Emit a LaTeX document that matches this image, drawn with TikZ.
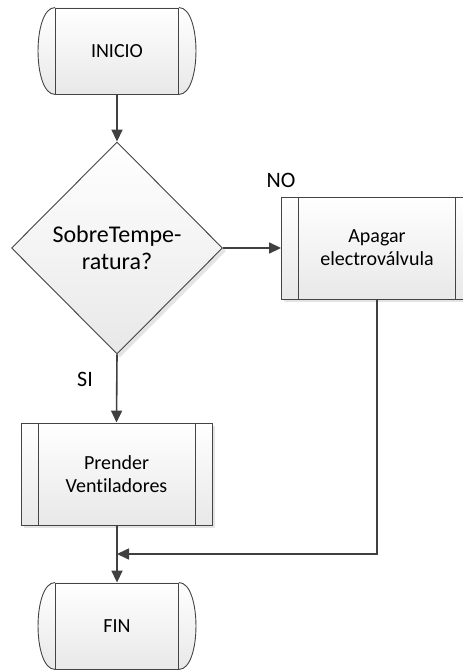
\documentclass[tikz,border=0pt]{standalone}
\usepackage{fontspec}
\setmainfont[Ligatures=NoCommon]{Carlito}
\usetikzlibrary{shapes.geometric,arrows.meta,backgrounds}

\definecolor{edge}{HTML}{444444}
\definecolor{wire}{HTML}{404040}
\definecolor{shadowgray}{HTML}{E4E4E4}

\tikzset{
  body/.style={draw=edge, line width=0.9pt, inner sep=0pt, align=center,
    font=\fontsize{20}{23}\selectfont},
  panel/.style={top color=white, bottom color=black!9},
  terminal/.style={body, rectangle, minimum width=123pt, minimum height=86pt},
  subproc/.style={body, panel, rectangle, minimum width=191pt, minimum height=102pt},
  decision/.style={body, panel, diamond, minimum width=211pt, minimum height=212pt,
    font=\fontsize{24}{27}\selectfont},
  flow/.style={draw=wire, line width=1.6pt, -{Triangle[length=12pt,width=11pt]}},
  tag/.style={font=\fontsize{22}{26}\selectfont},
  shade/.style={fill=shadowgray},
  rim/.style={draw=edge, line width=0.9pt},
}

\begin{document}
\begin{tikzpicture}[x=1pt,y=-1pt]
  \useasboundingbox (0,0) rectangle (463,670);

  % nodes
  \node[terminal] (inicio) at (117,51) {INICIO};
  \node[decision] (dec) at (117,248) {SobreTempe-\\ratura?};
  \node[subproc] (apagar) at (377,248) {Apagar\\electroválvula};
  \node[subproc] (prender) at (116.5,474) {Prender\\Ventiladores};
  \node[terminal] (fin) at (117,626) {FIN};

  % shadows and rounded-end fills
  \begin{scope}[on background layer]
    \foreach \t in {inicio,fin}{
      \path[shade,shift={(3,3)}] (\t.north west) .. controls +(-22.7,0) and +(-22.7,0) .. (\t.south west)
        -- (\t.south east) .. controls +(22.7,0) and +(22.7,0) .. (\t.north east) -- cycle;
      \path[panel] (\t.north west) .. controls +(-22.7,0) and +(-22.7,0) .. (\t.south west)
        -- (\t.south east) .. controls +(22.7,0) and +(22.7,0) .. (\t.north east) -- cycle;
    }
    \foreach \b in {apagar,prender}{
      \path[shade] ([shift={(3,3)}]\b.north west) rectangle ([shift={(3,3)}]\b.south east);
    }
    \path[shade] ([shift={(3,3)}]dec.north) -- ([shift={(3,3)}]dec.east)
      -- ([shift={(3,3)}]dec.south) -- ([shift={(3,3)}]dec.west) -- cycle;
  \end{scope}

  % rounded ends of the terminals
  \foreach \t in {inicio,fin}{
    \draw[rim] (\t.north west) .. controls +(-22.7,0) and +(-22.7,0) .. (\t.south west);
    \draw[rim] (\t.north east) .. controls +(22.7,0) and +(22.7,0) .. (\t.south east);
  }

  % inner bars of the sub-process boxes
  \foreach \b in {apagar,prender}{
    \draw[rim] ([xshift=17.5pt]\b.north west) -- ([xshift=17.5pt]\b.south west);
    \draw[rim] ([xshift=-17.5pt]\b.north east) -- ([xshift=-17.5pt]\b.south east);
  }

  % connectors
  \coordinate (join) at (117,554);
  \draw[flow] (inicio.south) -- (dec.north);
  \draw[flow] (dec.east) -- (apagar.west);
  \draw[flow] (dec.south) -- (prender.north);
  \draw[flow] (prender.south -| fin.north) -- (fin.north);
  \draw[flow] (apagar.south) |- (join);

  % branch labels
  \node[tag] (no) at (281,180) {NO};
  \node[tag] (si) at (85,379) {SI};
\end{tikzpicture}
\end{document}
